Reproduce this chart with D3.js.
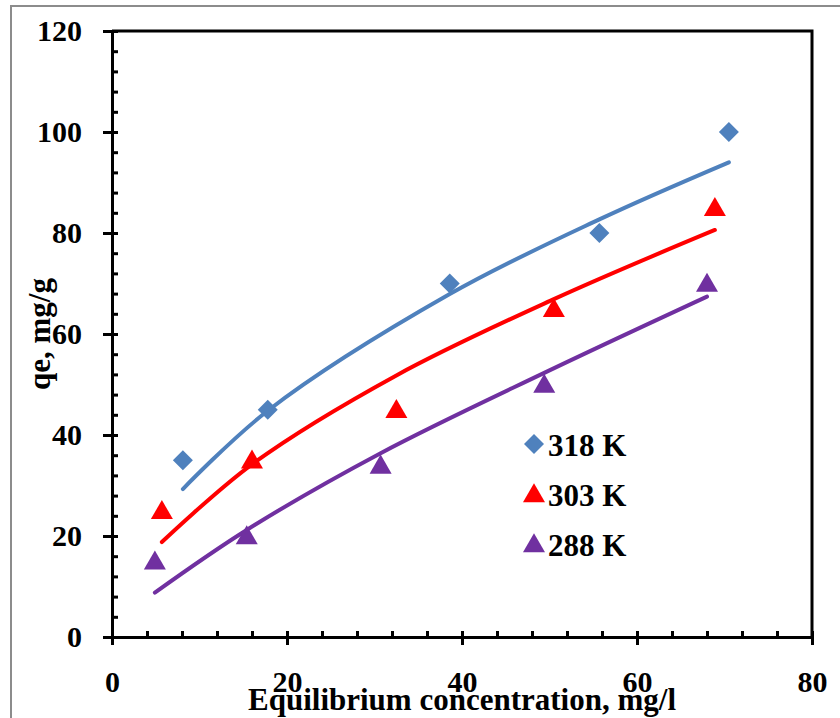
<!DOCTYPE html>
<meta charset="utf-8">
<style>
body { margin: 0; background: #fff; }
svg { display: block; font-family: 'Liberation Serif', 'Times New Roman', serif; font-weight: bold; }
.axis path, .axis line { stroke: #000; stroke-width: 3px; }
.axis text { font-size: 30px; font-family: 'Liberation Serif', serif; font-weight: bold; fill: #000; }
.fit { fill: none; stroke-width: 4px; stroke-linecap: round; }
.legend { font-size: 31px; }
</style>
<body>
<div id="chart"></div>
<script src="https://cdn.jsdelivr.net/npm/d3@7"></script>
<script>
// measured points (Ce, qe)
var x318 = [8.1, 17.8, 38.6, 55.7, 70.5]
var q318 = [35, 45, 70, 80, 100]
var x303 = [5.7, 16, 32.5, 50.5, 68.9]
var q303 = [25, 35, 45, 65, 85]
var x288 = [4.9, 15.4, 30.7, 49.4, 68]
var q288 = [15, 20, 34, 50, 70]

// fitted curve values at the same Ce
var fit318 = [29.3, 44.8, 67.9, 82.7, 94.0]
var fit303 = [18.8, 34.2, 51.8, 66.9, 80.6]
var fit288 = [8.8, 21.2, 36.4, 52.3, 67.4]

var labels = ['318 K', '303 K', '288 K']
var xTicks = [0, 20, 40, 60, 80]
var yTicks = [0, 20, 40, 60, 80, 100, 120]

var W = 840, H = 718
var pl = 112, pr = 812, pt = 31, pb = 637

var svg = d3.select('#chart').append('svg')
  .attr('width', W)
  .attr('height', H)

// outer frame
svg.append('rect')
  .attr('x', 11).attr('y', 6)
  .attr('width', 860).attr('height', 760)
  .attr('fill', 'none')
  .attr('stroke', '#8c8c8c')
  .attr('stroke-width', 2)

var x = d3.scaleLinear().domain([0, 80]).range([pl, pr])
var y = d3.scaleLinear().domain([0, 120]).range([pb, pt])

// box top/right
svg.append('path')
  .attr('d', 'M' + pl + ',' + pt + 'H' + pr + 'V' + pb)
  .attr('fill', 'none')
  .attr('stroke', '#000')
  .attr('stroke-width', 3)

// minor ticks
svg.append('g')
  .attr('class', 'axis')
  .attr('transform', 'translate(' + pl + ',0)')
  .call(d3.axisRight(y).tickValues(d3.range(0, 121, 4)).tickSize(6).tickFormat(''))
  .select('.domain').remove()

svg.append('g')
  .attr('class', 'axis')
  .attr('transform', 'translate(0,' + pb + ')')
  .call(d3.axisTop(x).tickValues(d3.range(0, 81, 4)).tickSize(6).tickFormat(''))
  .select('.domain').remove()

// major axes
var gy = svg.append('g')
  .attr('class', 'axis')
  .attr('transform', 'translate(' + pl + ',0)')
  .call(d3.axisLeft(y).tickValues(yTicks).tickSize(9).tickPadding(21).tickSizeOuter(0))

var gx = svg.append('g')
  .attr('class', 'axis')
  .attr('transform', 'translate(0,' + pb + ')')
  .call(d3.axisBottom(x).tickValues(xTicks).tickSize(8).tickSizeOuter(0))
gx.selectAll('.tick line').attr('y1', -6)
gx.selectAll('.tick text').attr('y', 55).attr('dy', null)

// axis titles
svg.append('text')
  .attr('x', 462)
  .attr('y', 710)
  .attr('text-anchor', 'middle')
  .style('font-size', '31px')
  .text('Equilibrium concentration, mg/l')

svg.append('text')
  .attr('transform', 'translate(50,334) rotate(-90)')
  .attr('text-anchor', 'middle')
  .style('font-size', '31px')
  .text('qe, mg/g')

var series = [
  { name: labels[0], xs: x318, qs: q318, fit: fit318, color: '#4F81BD', diamond: true },
  { name: labels[1], xs: x303, qs: q303, fit: fit303, color: '#FF0000', diamond: false },
  { name: labels[2], xs: x288, qs: q288, fit: fit288, color: '#7030A0', diamond: false }
]

var line = d3.line()
  .x(function(d) { return x(d[0]) })
  .y(function(d) { return y(d[1]) })
  .curve(d3.curveCatmullRom)

function marker(s) {
  if (s.diamond) return d3.symbol().type(d3.symbolSquare).size(200)()
  return d3.symbol().type(d3.symbolTriangle).size(210)()
}

function place(s, px, py, k) {
  var t = 'translate(' + px + ',' + py + ')'
  return s.diamond ? t + ' rotate(45) scale(' + k + ')' : t + ' translate(0,2) scale(' + k + ')'
}

series.forEach(function(s, i) {
  svg.append('path')
    .datum(d3.zip(s.xs, s.fit))
    .attr('class', 'fit')
    .attr('stroke', s.color)
    .attr('d', line)

  svg.selectAll('.pt' + i)
    .data(d3.zip(s.xs, s.qs))
    .enter().append('path')
    .attr('class', 'pt' + i)
    .attr('d', marker(s))
    .attr('fill', s.color)
    .attr('transform', function(d) { return place(s, x(d[0]), y(d[1]), 1) })

  // legend
  var ly = 444 + i * 50
  svg.append('path')
    .attr('d', marker(s))
    .attr('fill', s.color)
    .attr('transform', place(s, 534, ly, s.diamond ? 1 : 1))
  svg.append('text')
    .attr('class', 'legend')
    .attr('x', 548)
    .attr('y', ly + 12)
    .text(s.name)
})
</script>
</body>
